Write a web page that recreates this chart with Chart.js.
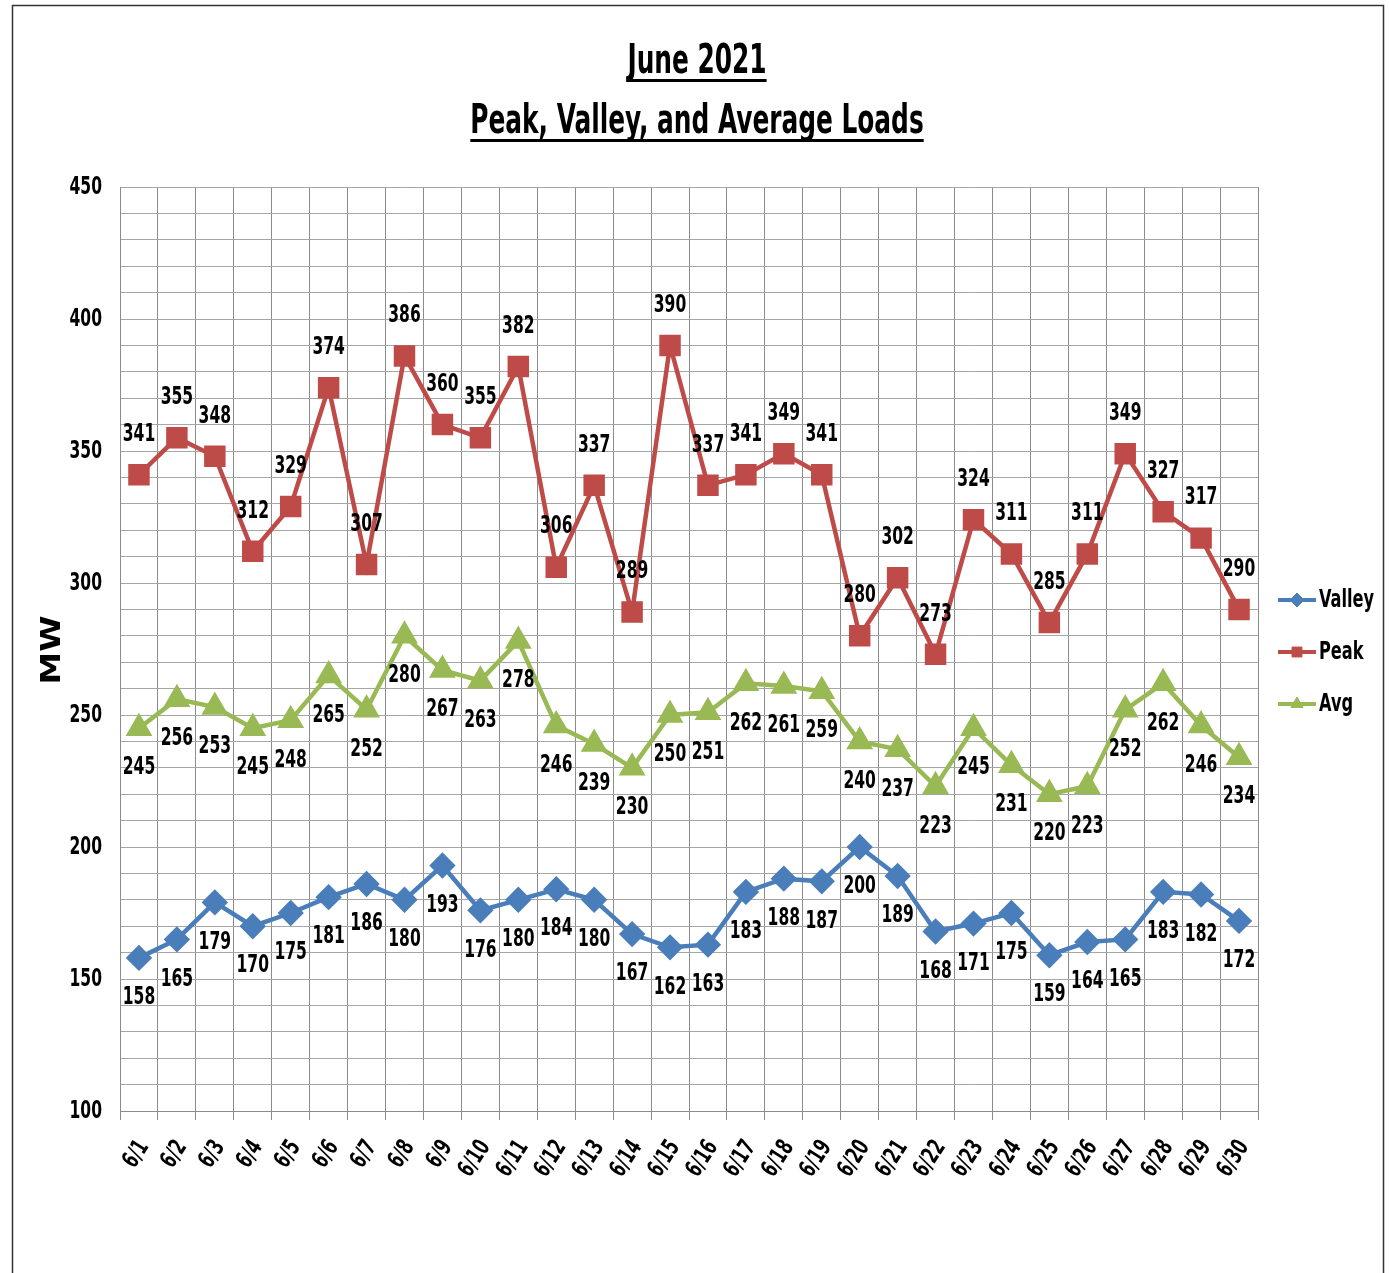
<!DOCTYPE html>
<html>
<head>
<meta charset="utf-8">
<script src="https://cdn.jsdelivr.net/npm/chart.js@4.4.1/dist/chart.umd.min.js"></script>
<style>
  html, body { margin: 0; padding: 0; background: #fff; }
  #wrap { width: 1389px; height: 1273px; }
</style>
</head>
<body>
<div id="wrap"><canvas id="loads" width="1389" height="1273"></canvas></div>
<script>
const days = ['6/1','6/2','6/3','6/4','6/5','6/6','6/7','6/8','6/9','6/10',
  '6/11','6/12','6/13','6/14','6/15','6/16','6/17','6/18','6/19','6/20',
  '6/21','6/22','6/23','6/24','6/25','6/26','6/27','6/28','6/29','6/30'];

const valley = [158,165,179,170,175,181,186,180,193,176,180,184,180,167,162,
  163,183,188,187,200,189,168,171,175,159,164,165,183,182,172];
const peak = [341,355,348,312,329,374,307,386,360,355,382,306,337,289,390,
  337,341,349,341,280,302,273,324,311,285,311,349,327,317,290];
const avg = [245,256,253,245,248,265,252,280,267,263,278,246,239,230,250,
  251,262,261,259,240,237,223,245,231,220,223,252,262,246,234];

const titleLines = ['June 2021', 'Peak, Valley, and Average Loads'];
const yTitle = 'MW';

const FONT = '"DejaVu Sans Condensed", "Liberation Sans Narrow", sans-serif';
const SQUEEZE = 0.72; // text is narrower than the fallback font

// label side for each series: valley below, peak above, avg below
const labelSide = [1, -1, 1];

// draws text squeezed horizontally around its anchor
function narrowText(ctx, text, x, y, align, sq) {
  ctx.save();
  ctx.translate(x, y);
  ctx.scale(sq || SQUEEZE, 1);
  ctx.textAlign = align || 'center';
  ctx.fillText(text, 0, 0);
  ctx.restore();
}

const decorPlugin = {
  id: 'decor',
  beforeDraw(chart) {
    const ctx = chart.ctx;
    ctx.save();
    ctx.fillStyle = '#fff';
    ctx.fillRect(0, 0, chart.width, chart.height);
    ctx.strokeStyle = '#333';
    ctx.lineWidth = 1.5;
    ctx.strokeRect(12.5, 5.5, 1371, 1300);
    ctx.restore();
  },
  afterDraw(chart) {
    const ctx = chart.ctx;
    const xs = chart.scales.x, ys = chart.scales.y;
    ctx.save();
    ctx.fillStyle = '#000';
    ctx.textBaseline = 'alphabetic';
    // title, underlined
    ctx.font = 'bold 40px ' + FONT;
    const tys = [73, 133];
    titleLines.forEach((t, i) => {
      const w = ctx.measureText(t).width * 0.69;
      narrowText(ctx, t, 697, tys[i], 'center', 0.69);
      ctx.fillRect(697 - w / 2, tys[i] + 6, w, 3);
    });

    // y tick labels
    ctx.font = 'bold 24px ' + FONT;
    ctx.textBaseline = 'middle';
    ys.ticks.forEach(t => {
      if (t.value % 50 !== 0) return;
      narrowText(ctx, String(t.value), 102, ys.getPixelForValue(t.value) + 1, 'right');
    });

    // x tick labels, rotated
    ctx.font = 'bold 24px ' + FONT;
    days.forEach((d, i) => {
      ctx.save();
      ctx.translate(xs.getPixelForValue(i) + 5, 1143);
      ctx.rotate(-57 * Math.PI / 180);
      ctx.scale(SQUEEZE, 1);
      ctx.textAlign = 'right';
      ctx.textBaseline = 'middle';
      ctx.fillText(d, 0, 0);
      ctx.restore();
    });

    // y axis title
    ctx.font = 'bold 27px ' + FONT;
    ctx.save();
    ctx.translate(53, 650);
    ctx.rotate(-Math.PI / 2);
    ctx.scale(1.35, 1);
    ctx.textBaseline = 'middle';
    ctx.textAlign = 'center';
    ctx.fillText(yTitle, 0, 0);
    ctx.restore();
    ctx.restore();

    // legend
    ctx.save();
    const lx = 1278, ly = [600, 652, 704];
    chart.data.datasets.forEach((ds, i) => {
      ctx.strokeStyle = ds.borderColor;
      ctx.lineWidth = 4;
      ctx.beginPath();
      ctx.moveTo(lx, ly[i]);
      ctx.lineTo(lx + 38, ly[i]);
      ctx.stroke();
      ctx.fillStyle = ds.borderColor;
      ctx.lineWidth = 1;
      Chart.helpers.drawPoint(ctx, {
        pointStyle: ds.pointStyle, radius: 7, rotation: 0, borderWidth: 1
      }, lx + 19, ly[i]);
      ctx.fillStyle = '#000';
      ctx.font = 'bold 25px ' + FONT;
      ctx.textBaseline = 'middle';
      narrowText(ctx, ds.label, lx + 41, ly[i], 'left');
    });
    ctx.restore();
  },
  afterDatasetsDraw(chart) {
    const ctx = chart.ctx;
    ctx.save();
    ctx.font = 'bold 24px ' + FONT;
    ctx.fillStyle = '#000';
    ctx.textBaseline = 'middle';
    chart.data.datasets.forEach((ds, i) => {
      const meta = chart.getDatasetMeta(i);
      meta.data.forEach((pt, j) => {
        narrowText(ctx, String(ds.data[j]), pt.x, pt.y + labelSide[i] * 40);
      });
    });
    ctx.restore();
  }
};

new Chart(document.getElementById('loads'), {
  type: 'line',
  data: {
    labels: days,
    datasets: [
      {
        label: 'Valley', data: valley,
        borderColor: '#4a7ebb', backgroundColor: '#4a7ebb',
        borderWidth: 4.5, pointStyle: 'rectRot', pointRadius: 10
      },
      {
        label: 'Peak', data: peak,
        borderColor: '#be4b48', backgroundColor: '#be4b48',
        borderWidth: 4.5, pointStyle: 'rect', pointRadius: 12
      },
      {
        label: 'Avg', data: avg,
        borderColor: '#98b954', backgroundColor: '#98b954',
        borderWidth: 4.5, pointStyle: 'triangle', pointRadius: 11
      }
    ]
  },
  options: {
    responsive: false,
    animation: false,
    layout: { padding: { left: 20, top: 187, right: 131, bottom: 72 } },
    plugins: {
      legend: { display: false },
      title: { display: false },
      tooltip: { enabled: false }
    },
    elements: { line: { tension: 0 }, point: { borderWidth: 1 } },
    scales: {
      x: {
        offset: true,
        grid: { offset: true, color: '#8c8c8c', lineWidth: 1, tickLength: 9 },
        border: { color: '#8c8c8c' },
        ticks: { display: false },
        afterFit(scale) { scale.height = 90; }
      },
      y: {
        min: 100, max: 450,
        grid: { color: '#a6a6a6', lineWidth: 1, drawTicks: false },
        border: { color: '#8c8c8c' },
        ticks: { stepSize: 10, display: false },
        afterFit(scale) { scale.width = 100; }
      }
    }
  },
  plugins: [decorPlugin]
});
</script>
</body>
</html>
